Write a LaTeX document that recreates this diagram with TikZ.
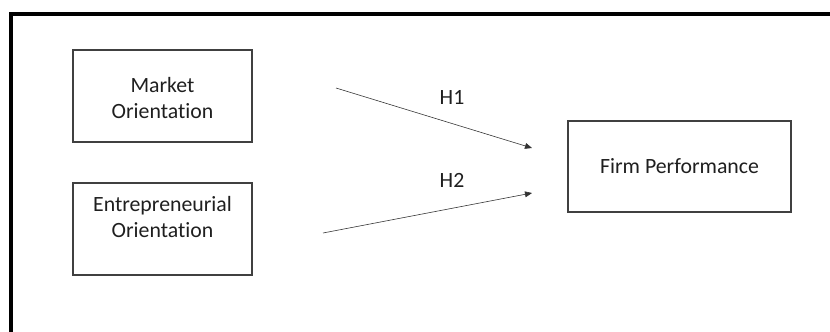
\documentclass[tikz,border=0pt]{standalone}
\usepackage{fontspec}
\setmainfont[Ligatures={NoCommon,NoRare}]{Carlito}
\usetikzlibrary{arrows.meta}
\definecolor{boxgray}{HTML}{404040}
\definecolor{textgray}{HTML}{1F1F1F}
\tikzset{
    box/.style={draw=boxgray,line width=0.9pt},
    boxtext/.style={text=textgray,align=center,font=\fontsize{18.6}{22}\selectfont,inner sep=0pt},
    hyp/.style={draw=black!80,line width=0.5pt,-{Triangle[length=6pt,width=5pt]}}
}
\begin{document}
\begin{tikzpicture}[x=0.03cm,y=-0.03cm]
                \useasboundingbox (0,0) rectangle (830,331);
                %% Frame
                \draw[line width=2.6pt,line cap=rect] (832,14) -- (11,14) -- (11,333);
                %% Boxes
                \node[box,minimum width=179*0.03cm,minimum height=92*0.03cm] (mobox) at (162.5,96) {};
                \node[boxtext] (motext) at (162.5,98) {Market\\Orientation};
                \node[box,minimum width=179*0.03cm,minimum height=92*0.03cm] (eobox) at (162.5,229) {};
                \node[boxtext] (eotext) at (162.5,217) {Entrepreneurial\\Orientation};
                \node[box,minimum width=223*0.03cm,minimum height=91*0.03cm] (fpbox) at (679.5,166.5) {};
                \node[boxtext] (fptext) at (fpbox) {Firm Performance};
                %% Hypotheses
                \coordinate (h1start) at (336,88);
                \coordinate (h1end) at (532,148);
                \coordinate (h2start) at (323,233);
                \coordinate (h2end) at (532,193);
                \draw[hyp] (h1start) -- (h1end);
                \draw[hyp] (h2start) -- (h2end);
                \node[boxtext] (h1) at (452,97) {H1};
                \node[boxtext] (h2) at (452,180) {H2};
            \end{tikzpicture}
\end{document}
